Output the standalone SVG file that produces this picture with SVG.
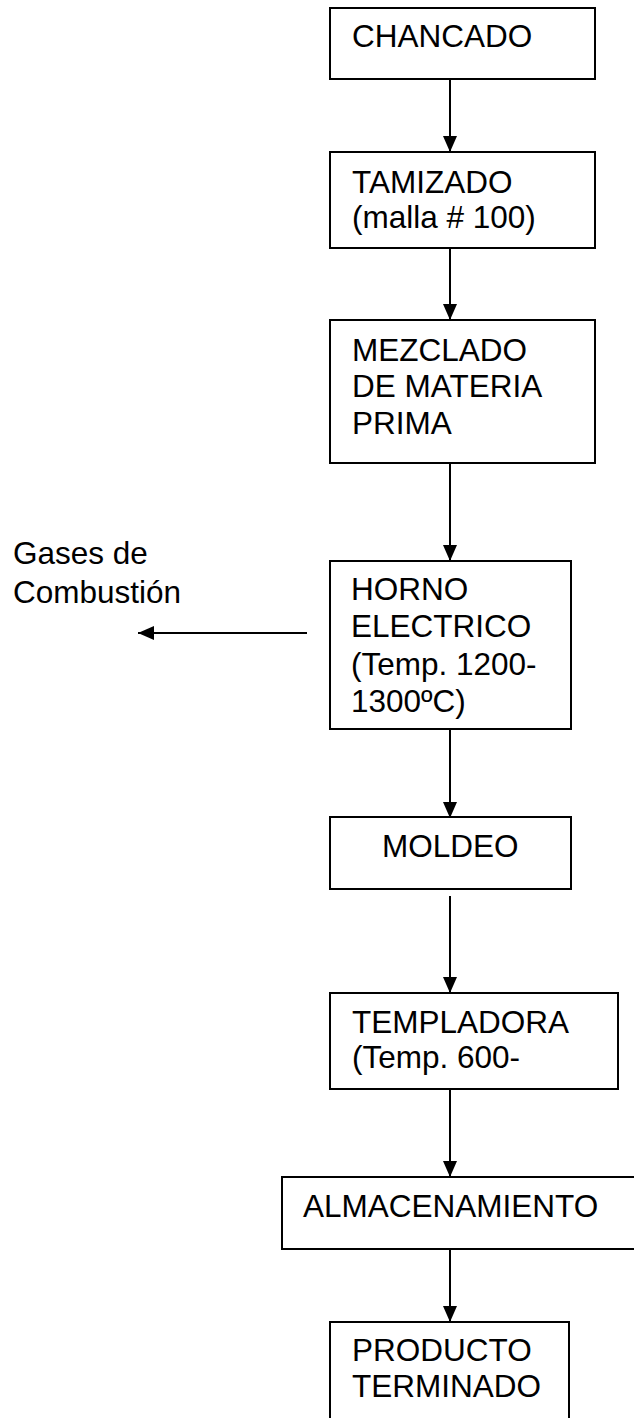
<svg xmlns="http://www.w3.org/2000/svg" width="634" height="1418" viewBox="0 0 634 1418">
<style>
.box{fill:#fff;stroke:#000;stroke-width:2}
.t{font-family:"Liberation Sans",Arial,sans-serif;font-size:31.5px;fill:#000}
.c{stroke:#000;stroke-width:2;fill:none;marker-end:url(#ah)}
</style>
<defs>
<marker id="ah" markerUnits="userSpaceOnUse" markerWidth="16" markerHeight="14" refX="16" refY="7" orient="auto">
<path d="M0,0 L16,7 L0,14 z" fill="#000"/>
</marker>
</defs>
<rect width="634" height="1418" fill="#fff"/>
<g id="connectors">
<line class="c" x1="450" y1="79" x2="450" y2="152"/>
<line class="c" x1="450" y1="248" x2="450" y2="320"/>
<line class="c" x1="450" y1="463" x2="450" y2="561"/>
<line class="c" x1="450" y1="729" x2="450" y2="818"/>
<line class="c" x1="450" y1="896" x2="450" y2="993"/>
<line class="c" x1="450" y1="1081" x2="450" y2="1177"/>
<line class="c" x1="450" y1="1249" x2="450" y2="1322"/>
<line class="c" x1="307" y1="633" x2="138" y2="633"/>
</g>
<g id="chancado"><rect class="box" x="330" y="8" width="265" height="71"/><text class="t" x="352" y="47">CHANCADO</text></g>
<g id="tamizado"><rect class="box" x="330" y="152" width="265" height="96"/><text class="t" x="352" y="193">TAMIZADO</text><text class="t" x="352" y="228">(malla # 100)</text></g>
<g id="mezclado"><rect class="box" x="330" y="320" width="265" height="143"/><text class="t" x="352" y="361">MEZCLADO</text><text class="t" x="352" y="397">DE MATERIA</text><text class="t" x="352" y="434">PRIMA</text></g>
<g id="horno"><rect class="box" x="330" y="561" width="241" height="168"/><text class="t" x="351" y="600">HORNO</text><text class="t" x="351" y="637">ELECTRICO</text><text class="t" x="351" y="675">(Temp. 1200-</text><text class="t" x="351" y="712">1300ºC)</text></g>
<g id="gases"><text class="t" x="13" y="564">Gases de</text><text class="t" x="13" y="603">Combustión</text></g>
<g id="moldeo"><rect class="box" x="330" y="817" width="241" height="72"/><text class="t" x="382" y="857">MOLDEO</text></g>
<g id="templadora"><rect class="box" x="330" y="993" width="288" height="96"/><text class="t" x="352" y="1033">TEMPLADORA</text><text class="t" x="352" y="1068">(Temp. 600-</text></g>
<g id="almacenamiento"><rect class="box" x="282" y="1177" width="360" height="72"/><text class="t" x="303" y="1217">ALMACENAMIENTO</text></g>
<g id="producto"><rect class="box" x="330" y="1322" width="239" height="110"/><text class="t" x="352" y="1361">PRODUCTO</text><text class="t" x="352" y="1397">TERMINADO</text></g>
</svg>
